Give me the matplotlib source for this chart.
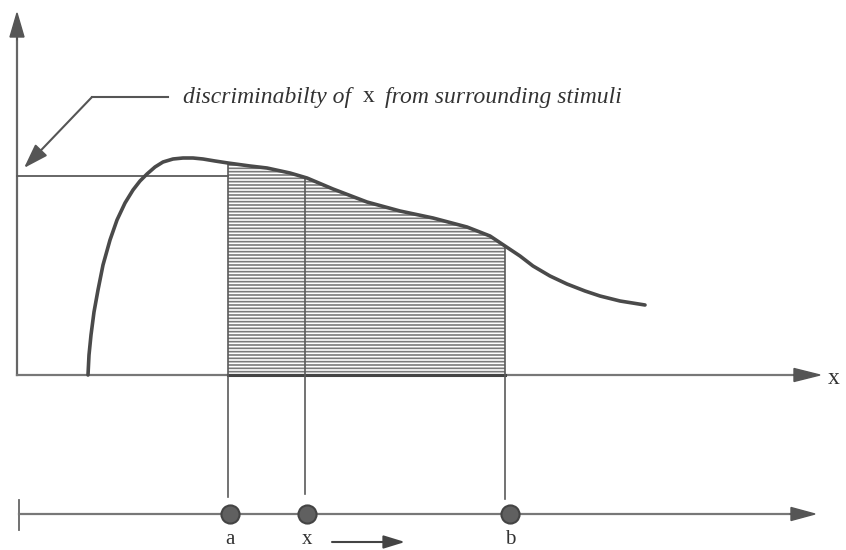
import matplotlib.pyplot as plt

# curve of discriminability (pixel-like units, y down)
curve_x = [88, 89, 91, 94, 98, 103, 110, 117, 125, 133, 140, 147, 155, 163, 173, 183,
           193, 203, 215, 228, 250, 267, 290, 307, 333, 367, 400, 433, 467, 490, 505,
           520, 533, 550, 567, 585, 600, 620, 645]
curve_y = [375, 355, 335, 312, 290, 265, 240, 220, 203, 190, 181, 174, 167, 162, 159, 158,
           158, 159, 161, 163, 166, 168, 173, 178, 189, 202, 211, 218, 227, 236, 246,
           256, 266, 276, 284, 291, 296, 301, 305]

a_pos, x_pos, b_pos = 228, 305, 505
dot_x = [230, 307, 510]
dot_labels = ['a', 'x', 'b']
level_y = 176
base_y = 375
line_y = 514

ink = '#4a4a4a'
thin = '#5a5a5a'

plt.rcParams['hatch.linewidth'] = 1.2

fig = plt.figure(figsize=(8.46, 5.5), dpi=100)
ax = fig.add_axes([0, 0, 1, 1])
ax.set_xlim(0, 846)
ax.set_ylim(550, 0)
ax.axis('off')

# shaded area between a and b
sx = [v for v in curve_x if a_pos <= v <= b_pos]
sy = [curve_y[curve_x.index(v)] for v in sx]
ax.fill_between(sx, sy, base_y, facecolor='white', edgecolor='#7a7a7a',
                hatch='-----', linewidth=0, zorder=1)

# axes with arrows
ax.plot([17, 17], [375, 30], color='#666666', lw=1.6, zorder=2)
ax.arrow(17, 40, 0, -27, width=0.01, head_width=14, head_length=24,
         length_includes_head=True, color='#555555', zorder=3)
ax.plot([17, 800], [base_y, base_y], color='#777777', lw=1.6, zorder=2)
ax.arrow(795, base_y, 25, 0, width=0.01, head_width=13, head_length=26,
         length_includes_head=True, color='#555555', zorder=3)
ax.text(828, base_y + 3, 'x', fontsize=17, family='Liberation Serif',
        color='#333333', va='center', ha='left')

# level line
ax.plot([17, a_pos], [level_y, level_y], color=thin, lw=1.3, zorder=2)
ax.plot([a_pos, b_pos], [base_y, base_y], color='#444444', lw=2.2, zorder=2)

# curve
ax.plot(curve_x, curve_y, color=ink, lw=2.6, solid_capstyle='round', zorder=4)

# verticals down to the stimulus line
for px, end in zip([a_pos, x_pos, b_pos], [497, 494, 499]):
    top = curve_y[curve_x.index(px)] if px in curve_x else 178
    ax.plot([px, px], [top, end], color=thin, lw=1.2, zorder=3)

# annotation
ax.plot([168, 92], [97, 97], color='#555555', lw=1.5, zorder=3)
ax.annotate('', xy=(24, 168), xytext=(92, 97),
            arrowprops=dict(arrowstyle='-|>,head_length=1.5,head_width=0.5',
                            color='#555555', lw=1.5, shrinkA=0, shrinkB=0))

# annotation text in three pieces, chained left to right
pieces = [('discriminabilty of', 'italic', 12), ('x', 'normal', 10),
          ('from surrounding stimuli', 'italic', 0)]
renderer = fig.canvas.get_renderer()
inv = ax.transData.inverted()
tx = 183
for s, st, gap in pieces:
    t = ax.text(tx, 97, s, fontsize=17, family='Liberation Serif', style=st,
                color='#333333', va='center', ha='left')
    bb = t.get_window_extent(renderer)
    tx = inv.transform((bb.x1, bb.y0))[0] + gap

# stimulus line at the bottom
ax.plot([19, 19], [500, 530], color='#666666', lw=1.3)
ax.plot([19, 795], [line_y, line_y], color='#777777', lw=1.6)
ax.arrow(790, line_y, 25, 0, width=0.01, head_width=13, head_length=24,
         length_includes_head=True, color='#555555', zorder=3)
ax.scatter(dot_x, [line_y] * 3, s=170, color='#606060', edgecolor='#444444',
           linewidth=1.5, zorder=5)
for px, lab in zip(dot_x, dot_labels):
    ax.text(px, 540, lab, fontsize=15, family='Liberation Serif',
            color='#333333', ha='center', va='center')
ax.annotate('', xy=(405, 542), xytext=(332, 542),
            arrowprops=dict(arrowstyle='-|>,head_length=1.3,head_width=0.4',
                            color='#444444', lw=1.5, shrinkA=0, shrinkB=0))

fig.savefig('out.png', dpi=100)
